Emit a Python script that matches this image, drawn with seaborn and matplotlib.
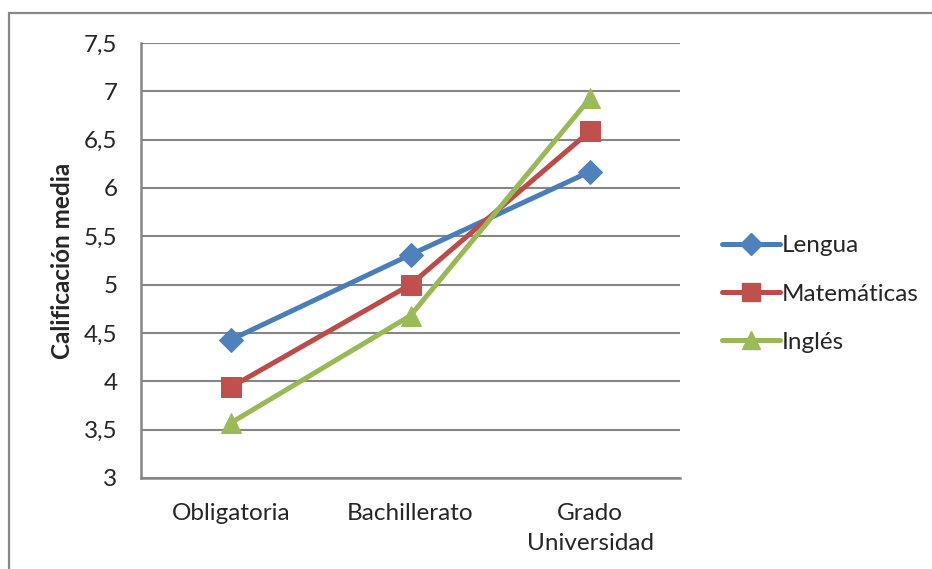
import matplotlib
matplotlib.use("Agg")
import matplotlib.pyplot as plt
from matplotlib.lines import Line2D
from matplotlib.patches import Rectangle
import seaborn as sns
import pandas as pd

# Data
niveles = ["Obligatoria", "Bachillerato", "Grado\nUniversidad"]
lengua = [4.43, 5.31, 6.17]
matematicas = [3.94, 5.00, 6.59]
ingles = [3.57, 4.68, 6.93]
asignaturas = ["Lengua", "Matemáticas", "Inglés"]
y_ticks = [3, 3.5, 4, 4.5, 5, 5.5, 6, 6.5, 7, 7.5]

df = pd.DataFrame({
    "nivel": niveles * 3,
    "pos": list(range(len(niveles))) * 3,
    "nota": lengua + matematicas + ingles,
    "asignatura": [a for a in asignaturas for _ in niveles],
})

sns.set_theme(style="white")
plt.rcParams["font.family"] = ["Lato", "DejaVu Sans"]

colores = {"Lengua": "#4A7EBB", "Matemáticas": "#BE4B48", "Inglés": "#98B954"}
marcadores = {"Lengua": "D", "Matemáticas": "s", "Inglés": "^"}
tam_marcador = {"Lengua": 12, "Matemáticas": 14, "Inglés": 14}
relleno = {"Lengua": "#4F81BD", "Matemáticas": "#C0504D", "Inglés": "#9BBB59"}

fs = 17.5

fig = plt.figure(figsize=(9.32, 5.69), dpi=100)
ax = fig.add_axes([141 / 932, 1 - 478 / 569, 539 / 932, 435 / 569])

for a in asignaturas:
    sub = df[df["asignatura"] == a]
    sns.lineplot(data=sub, x="pos", y="nota", ax=ax, color=colores[a],
                 linewidth=3.6, marker=marcadores[a], markersize=tam_marcador[a],
                 markerfacecolor=relleno[a], markeredgecolor=relleno[a],
                 legend=False, zorder=3)

ax.set_xlim(-0.5, len(niveles) - 0.5)
ax.set_ylim(3, 7.5)
ax.set_xticks(range(len(niveles)))
ax.set_xticklabels(niveles, fontsize=fs, linespacing=1.55)
ax.set_yticks(y_ticks)
ax.set_yticklabels([f"{v:g}".replace(".", ",") for v in y_ticks], fontsize=fs)
ax.tick_params(axis="y", length=0, pad=17)
ax.tick_params(axis="x", length=0, pad=18)
ax.set_xlabel("")
ax.set_ylabel("Calificación media", fontsize=fs, fontweight="bold", labelpad=7)

ax.grid(axis="y", color="#868686", linewidth=1.5)
ax.grid(axis="x", visible=False)
ax.set_axisbelow(True)
for s in ["top", "right"]:
    ax.spines[s].set_visible(False)
for s in ["left", "bottom"]:
    ax.spines[s].set_color("#868686")
    ax.spines[s].set_linewidth(1.8)

handles = [Line2D([], [], color=colores[a], linewidth=3.6, marker=marcadores[a],
                  markersize=tam_marcador[a] - 1, markerfacecolor=relleno[a],
                  markeredgecolor=relleno[a]) for a in asignaturas]
fig.legend(handles, asignaturas, loc="center left",
           bbox_to_anchor=(700 / 932, 1 - 294 / 569), frameon=False,
           fontsize=fs, handlelength=2.4, handletextpad=0.05, labelspacing=1.12)

# chart-area frame
fig.patches.append(Rectangle((9 / 932, -0.1), 1.0, 1 - 13 / 569 + 0.1,
                             transform=fig.transFigure, fill=False,
                             edgecolor="#878787", linewidth=1.6))

fig.savefig("out.png", dpi=100)
